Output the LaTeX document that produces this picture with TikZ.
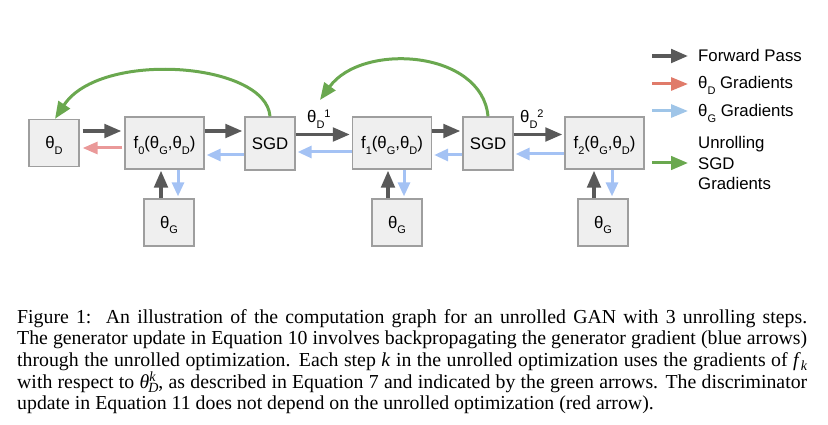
\documentclass[tikz,border=0pt]{standalone}
\usepackage{fontspec}
\setmainfont{Liberation Sans}
\newfontfamily\capfont{Liberation Serif}
\usetikzlibrary{arrows.meta}
\definecolor{dk}{HTML}{595959}
\definecolor{rd}{HTML}{EA9999}
\definecolor{rdleg}{HTML}{E07B6A}
\definecolor{bl}{HTML}{A4C2F4}
\definecolor{blleg}{HTML}{9FC5E8}
\definecolor{gr}{HTML}{6AA84F}
\definecolor{boxfill}{HTML}{EFEFEF}
\definecolor{boxline}{HTML}{9E9E9E}
\newcommand\sbs[1]{\raisebox{-5.5pt}{\fontsize{11}{11}\selectfont #1}}
\newcommand\sps[1]{\raisebox{5.5pt}{\fontsize{11}{11}\selectfont #1}}
\newcommand\csub[1]{\raisebox{-4.5pt}{\fontsize{14}{14}\selectfont\itshape #1}}
\newcommand\csup[1]{\raisebox{7pt}{\fontsize{14}{14}\selectfont\itshape #1}}
\tikzset{
  dfont/.style={font=\fontsize{16.8}{20.3}\selectfont},
  gbox/.style={dfont, draw=boxline, fill=boxfill, line width=1.3pt, minimum width=50pt,
    minimum height=47pt, inner sep=0pt, text height=13pt, text depth=1pt},
  fbox/.style={gbox, minimum width=79pt, minimum height=52pt},
  sgdbox/.style={gbox, minimum width=50pt, minimum height=53pt},
  fwd/.style={draw=dk, line width=3.5pt, -{Triangle[length=17pt,width=13.5pt]}},
  dgrad/.style={draw=rd, line width=3pt, -{Triangle[length=15pt,width=12pt]}},
  ggrad/.style={draw=bl, line width=3pt, -{Triangle[length=14pt,width=12pt]}},
  ugrad/.style={draw=gr, line width=3pt, -{Triangle[length=17pt,width=13.5pt]}},
  lbl/.style={dfont, inner sep=0pt, anchor=base west},
  legtext/.style={dfont, inner sep=0pt, anchor=west, align=left},
  captext/.style={inner sep=0pt, anchor=base west, font=\capfont\fontsize{19.8}{21.8}\selectfont},
}
\begin{document}
\begin{tikzpicture}[x=1pt,y=-1pt]
\useasboundingbox (0,0) rectangle (828,425);

% boxes
\node[gbox]   (thD)  at (54,143)    {θ\sbs{D}};
\node[fbox]   (f0)   at (164.5,143) {f\sbs{0}(θ\sbs{G},θ\sbs{D})};
\node[sgdbox] (sgdA) at (270,143.5) {SGD};
\node[gbox]   (gA)   at (169,222.5) {θ\sbs{G}};
\node[fbox]   (f1)   at (392,143)   {f\sbs{1}(θ\sbs{G},θ\sbs{D})};
\node[sgdbox] (sgdB) at (488,143.5) {SGD};
\node[fbox]   (f2)   at (604.5,143) {f\sbs{2}(θ\sbs{G},θ\sbs{D})};
\node[gbox]   (gB)   at (397,222.5) {θ\sbs{G}};
\node[gbox]   (gC)   at (603,222.5) {θ\sbs{G}};

% labels on SGD -> f arrows
\node[lbl] (l1) at (307,123) {θ\sbs{D}\sps{1}};
\node[lbl] (l2) at (520,123) {θ\sbs{D}\sps{2}};

% forward pass
\draw[fwd, shorten <=3pt, shorten >=3pt] ([yshift=12pt]thD.east) -- ([yshift=12pt]thD.east -| f0.west);
\draw[fwd, shorten >=2pt] ([yshift=12pt]f0.east) -- ([yshift=12pt]f0.east -| sgdA.west);
\draw[fwd, shorten >=2pt] ([yshift=9pt]sgdA.east) -- ([yshift=9pt]sgdA.east -| f1.west);
\draw[fwd, shorten >=2pt] ([yshift=12pt]f1.east) -- ([yshift=12pt]f1.east -| sgdB.west);
\draw[fwd, shorten >=2pt] ([yshift=9pt]sgdB.east) -- ([yshift=9pt]sgdB.east -| f2.west);
\draw[fwd, shorten >=1pt] ([xshift=-8pt]gA.north) -- ([xshift=-8pt]gA.north |- f0.south);
\draw[fwd, shorten >=1pt] ([xshift=-9pt]gB.north) -- ([xshift=-9pt]gB.north |- f1.south);
\draw[fwd, shorten >=1pt] ([xshift=-9pt]gC.north) -- ([xshift=-9pt]gC.north |- f2.south);

% theta_D gradient
\draw[dgrad, shorten <=2pt, shorten >=3pt] ([yshift=-5pt]f0.west) -- ([yshift=-5pt]f0.west -| thD.east);

% theta_G gradients
\draw[ggrad, shorten >=2pt] ([yshift=-11.5pt]sgdA.west) -- ([yshift=-11.5pt]sgdA.west -| f0.east);
\draw[ggrad, shorten >=2pt] ([yshift=-9pt]f1.west) -- ([yshift=-9pt]f1.west -| sgdA.east);
\draw[ggrad, shorten >=2pt] ([yshift=-11.5pt]sgdB.west) -- ([yshift=-11.5pt]sgdB.west -| f1.east);
\draw[ggrad, shorten >=2pt] ([yshift=-11pt]f2.west) -- ([yshift=-11pt]f2.west -| sgdB.east);
\draw[ggrad, shorten >=2pt] ([xshift=9pt]gA.north |- f0.south) -- ([xshift=9pt]gA.north);
\draw[ggrad, shorten >=2pt] ([xshift=7pt]gB.north |- f1.south) -- ([xshift=7pt]gB.north);
\draw[ggrad, shorten >=2pt] ([xshift=9pt]gC.north |- f2.south) -- ([xshift=9pt]gC.north);

% unrolling SGD gradients
\coordinate (gtip) at (320,100);
\draw[ugrad] (sgdA.north) .. controls (266,62) and (100,50) .. ([xshift=1pt]thD.north);
\draw[ugrad] (sgdB.north) .. controls (482,50) and (362,42) .. (gtip);

% legend
\node[legtext, text height=12pt, text depth=0pt] (t1) at (698,56)  {Forward Pass};
\node[legtext, text height=12pt, text depth=0pt] (t2) at (698,83)  {θ\sbs{D} Gradients};
\node[legtext, text height=12pt, text depth=0pt] (t3) at (698,111) {θ\sbs{G} Gradients};
\node[legtext] (t4) at (698,163) {Unrolling\\SGD\\Gradients};
\draw[fwd] ([xshift=-46pt]t1.west) -- ([xshift=-10pt]t1.west);
\draw[draw=rdleg, line width=3pt, -{Triangle[length=17pt,width=13pt]}] ([xshift=-46pt,yshift=-1pt]t2.west) -- ([xshift=-10pt,yshift=-1pt]t2.west);
\draw[draw=blleg, line width=3pt, -{Triangle[length=17pt,width=13pt]}] ([xshift=-46pt]t3.west) -- ([xshift=-10pt]t3.west);
\draw[ugrad] ([xshift=-46pt]t4.west) -- ([xshift=-10pt]t4.west);

% caption
\node[captext] (c1) at (17,323)   {\makebox[790pt][s]{Figure 1:\ \ An illustration of the computation graph for an unrolled GAN with 3 unrolling steps.}};
\node[captext] (c2) at (17,344.7) {\makebox[790pt][s]{The generator update in Equation 10 involves backpropagating the generator gradient (blue arrows)}};
\node[captext] (c3) at (17,366.4) {\makebox[790pt][s]{through the unrolled optimization. Each step \textit{k} in the unrolled optimization uses the gradients of \textit{f}\csub{k}}};
\node[captext] (c4) at (17,388.1) {\makebox[790pt][s]{with respect to \textit{θ}\rlap{\csup{k}}\kern-1pt\csub{D}, as described in Equation 7 and indicated by the green arrows. The discriminator}};
\node[captext] (c5) at (17,409.8) {update in Equation 11 does not depend on the unrolled optimization (red arrow).};
\end{tikzpicture}
\end{document}
